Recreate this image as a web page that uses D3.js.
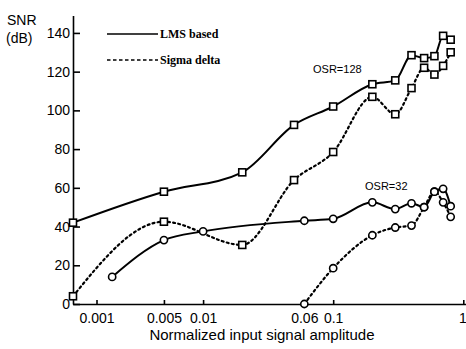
<!DOCTYPE html>
<html>
<head>
<meta charset="utf-8">
<script src="https://cdn.jsdelivr.net/npm/d3@7"></script>
<style>
  html, body { margin: 0; padding: 0; background: #fff; }
  svg { display: block; }
  text { font-family: "Liberation Sans", Arial, sans-serif; fill: #000; }
</style>
</head>
<body>
<script>
// ---------- data ----------
const xTicks = [0.001, 0.005, 0.01, 0.06, 0.1, 1];
const xTickLabels = ["0.001", "0.005", "0.01", "0.06", "0.1", "1"];
const yTicks = [0, 20, 40, 60, 80, 100, 120, 140];

const lms128X = [0.001, 0.005, 0.02, 0.05, 0.1, 0.2, 0.3, 0.4, 0.5, 0.6, 0.7, 0.8];
const lms128Y = [42, 58, 68, 92.5, 102, 113.5, 115.5, 128.5, 127, 128, 138.5, 136.5];

const sd128X = [0.001, 0.005, 0.02, 0.05, 0.1, 0.2, 0.3, 0.4, 0.5, 0.6, 0.7, 0.8];
const sd128Y = [4, 42.5, 30.5, 64, 78.5, 107, 98, 111.5, 122, 118.5, 123, 130];

const lms32X = [0.002, 0.005, 0.01, 0.06, 0.1, 0.2, 0.3, 0.4, 0.5, 0.6, 0.7, 0.8];
const lms32Y = [14, 33, 37.5, 43, 44, 52.5, 49, 52, 50, 58, 59.5, 50.5];

const sd32X = [0.06, 0.1, 0.2, 0.3, 0.4, 0.5, 0.6, 0.7, 0.8];
const sd32Y = [0, 18.5, 35.5, 39.5, 40.5, 50, 58, 52.5, 45];

const legendLabels = ["LMS based", "Sigma delta"];
const osrLabels = ["OSR=128", "OSR=32"];

// ---------- chart ----------
const W = 466, H = 349;
const svg = d3.select("body").append("svg").attr("width", W).attr("height", H);

const x = d3.scaleLog().domain([0.001, 1.055]).range([73, 466.3]);
const y = d3.scaleLinear().domain([0, 149]).range([304, 15.5]);

// y axis
const yAxis = d3.axisLeft(y).tickValues(yTicks).tickSizeInner(-7).tickSizeOuter(0).tickPadding(3);
const gy = svg.append("g").attr("transform", "translate(73,0)").call(yAxis);
gy.selectAll("text").style("font-size", "14px").style("font-family", "'Liberation Sans', Arial, sans-serif").attr("fill", "#000");
gy.selectAll("line, path").attr("stroke", "#000").attr("stroke-width", 1.6);

// x axis
const xAxis = d3.axisBottom(x).tickValues(xTicks).tickFormat((d, i) => xTickLabels[i])
  .tickSizeInner(-4).tickSizeOuter(0).tickPadding(9);
const gx = svg.append("g").attr("transform", "translate(0,304)").call(xAxis);
gx.selectAll("text").style("font-size", "14px").style("font-family", "'Liberation Sans', Arial, sans-serif").attr("fill", "#000");
gx.selectAll("line, path").attr("stroke", "#000").attr("stroke-width", 1.6);
// first label is set off from the y axis in the original
gx.selectAll(".tick").filter(d => d === 0.001)
  .attr("transform", `translate(${x(0.001) + 24},0)`);
// last label sits against the right edge
gx.selectAll(".tick").filter(d => d === 1).select("text")
  .attr("text-anchor", "end").attr("dx", 3);

// axis titles
svg.append("text").attr("x", 7).attr("y", 25).style("font-size", "14px").text("SNR");
svg.append("text").attr("x", 6).attr("y", 43).style("font-size", "14px").text("(dB)");
svg.append("text").attr("x", 262).attr("y", 340).attr("text-anchor", "middle")
  .style("font-size", "15px").text("Normalized input signal amplitude");

// series
const series = [
  { xs: lms128X, ys: lms128Y, dash: null, marker: "square" },
  { xs: sd128X, ys: sd128Y, dash: "2,3.2", marker: "square" },
  { xs: lms32X, ys: lms32Y, dash: null, marker: "circle" },
  { xs: sd32X, ys: sd32Y, dash: "2,3.2", marker: "circle" }
];

const line = d3.line().x(d => x(d[0])).y(d => y(d[1])).curve(d3.curveMonotoneX);

series.forEach(s => {
  const pts = s.xs.map((v, i) => [v, s.ys[i]]);
  svg.append("path").datum(pts).attr("d", line)
    .attr("fill", "none").attr("stroke", "#000")
    .attr("stroke-width", s.dash ? 2.2 : 2)
    .attr("stroke-dasharray", s.dash)
    .attr("stroke-linecap", s.dash ? "round" : "butt");
});

series.forEach(s => {
  const pts = s.xs.map((v, i) => [v, s.ys[i]]);
  if (s.marker === "square") {
    svg.append("g").selectAll("rect").data(pts).join("rect")
      .attr("x", d => x(d[0]) - 3.5).attr("y", d => y(d[1]) - 3.5)
      .attr("width", 7).attr("height", 7)
      .attr("fill", "#fff").attr("stroke", "#000").attr("stroke-width", 1.6);
  } else {
    svg.append("g").selectAll("circle").data(pts).join("circle")
      .attr("cx", d => x(d[0])).attr("cy", d => y(d[1])).attr("r", 3.6)
      .attr("fill", "#fff").attr("stroke", "#000").attr("stroke-width", 1.6);
  }
});

// legend
const lg = svg.append("g");
[0, 1].forEach(i => {
  const yy = 34 + i * 26;
  lg.append("line").attr("x1", 107).attr("x2", 158).attr("y1", yy).attr("y2", yy)
    .attr("stroke", "#000").attr("stroke-width", 1.6)
    .attr("stroke-dasharray", i === 1 ? "3.5,2.5" : null);
  lg.append("text").attr("x", 160).attr("y", yy + 4)
    .style("font-family", "'Liberation Serif', 'Times New Roman', serif")
    .style("font-size", "12px").style("font-weight", "bold")
    .text(legendLabels[i]);
});

// OSR annotations
svg.append("text").attr("x", 313).attr("y", 73).style("font-size", "11px").text(osrLabels[0]);
svg.append("text").attr("x", 365).attr("y", 190).style("font-size", "11px").text(osrLabels[1]);
</script>
</body>
</html>
